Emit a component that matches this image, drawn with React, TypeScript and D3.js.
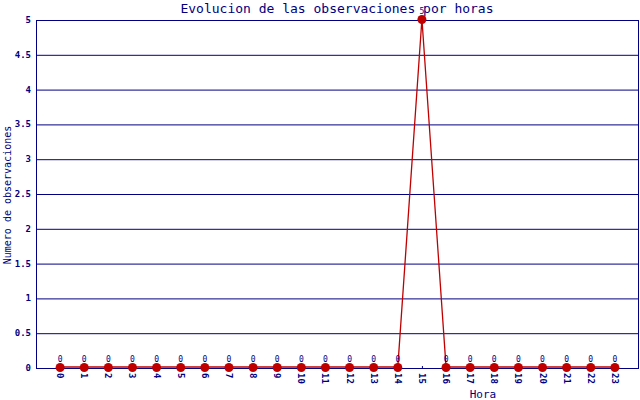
import React from "react";
import * as d3 from "d3";

// --- Data ---
const HOURS = d3.range(0, 24).map(String);
const OBSERVATIONS = [0, 0, 0, 0, 0, 0, 0, 0, 0, 0, 0, 0, 0, 0, 0, 5, 0, 0, 0, 0, 0, 0, 0, 0];
const Y_TICKS = [0, 0.5, 1, 1.5, 2, 2.5, 3, 3.5, 4, 4.5, 5];

const W = 640;
const H = 400;
const LEFT = 36;
const RIGHT = 639;
const TOP = 20;
const BOTTOM = 368;
const NAVY = "#000080";
const RED = "#c00000";
const FONT = "'DejaVu Sans Mono', monospace";

export default function App() {
  const x = d3.scaleLinear().domain([-1, HOURS.length]).range([LEFT, RIGHT]);
  const y = d3.scaleLinear().domain([0, 5]).range([BOTTOM, TOP]);

  const line = d3
    .line<number>()
    .x((d, i) => x(i))
    .y((d) => y(d) - 1);

  return (
    <svg
      width={W}
      height={H}
      style={{ position: "absolute", left: 0, top: 0, background: "#fff" }}
      fontFamily={FONT}
    >
      {/* grid lines */}
      {Y_TICKS.map((t) => (
        <g key={t}>
          <line x1={LEFT} x2={RIGHT} y1={y(t) + 0.5} y2={y(t) + 0.5} stroke={NAVY} strokeWidth={1} />
          <text
            x={LEFT - 5}
            y={y(t) + 3}
            textAnchor="end"
            fontSize={9}
            fontWeight="bold"
            fill={NAVY}
          >
            {t}
          </text>
        </g>
      ))}
      {/* frame */}
      <line x1={LEFT + 0.5} x2={LEFT + 0.5} y1={TOP} y2={BOTTOM + 1} stroke={NAVY} strokeWidth={1} />
      <line x1={RIGHT - 0.5} x2={RIGHT - 0.5} y1={TOP} y2={BOTTOM + 1} stroke={NAVY} strokeWidth={1} />

      {/* x tick labels */}
      {HOURS.map((h, i) => (
        <g key={h} transform={`translate(${x(i)},${BOTTOM + 5}) rotate(90)`}>
          <text x={0} y={3} fontSize={9} fontWeight="bold" fill={NAVY}>
            {h}
          </text>
        </g>
      ))}
      {HOURS.map((h, i) => (
        <line key={"t" + h} x1={x(i) + 0.5} x2={x(i) + 0.5} y1={BOTTOM - 2} y2={BOTTOM} stroke={NAVY} />
      ))}

      {/* series */}
      <path d={line(OBSERVATIONS) || ""} fill="none" stroke={RED} strokeWidth={1.3} />
      {OBSERVATIONS.map((v, i) => (
        <g key={i}>
          <circle cx={x(i)} cy={y(v) - 0.5} r={4.5} fill={RED} />
          <text x={x(i)} y={y(v) - 6} textAnchor="middle" fontSize={8} fill={NAVY}>
            {v}
          </text>
        </g>
      ))}

      {/* titles */}
      <text x={337} y={13} textAnchor="middle" fontSize={13} fill={NAVY}>
        Evolucion de las observaciones por horas
      </text>
      <text
        transform={`translate(11,${195}) rotate(-90)`}
        textAnchor="middle"
        fontSize={10}
        fill={NAVY}
      >
        Numero de observaciones
      </text>
      <text x={483} y={398} textAnchor="middle" fontSize={11} fill={NAVY}>
        Hora
      </text>
    </svg>
  );
}
